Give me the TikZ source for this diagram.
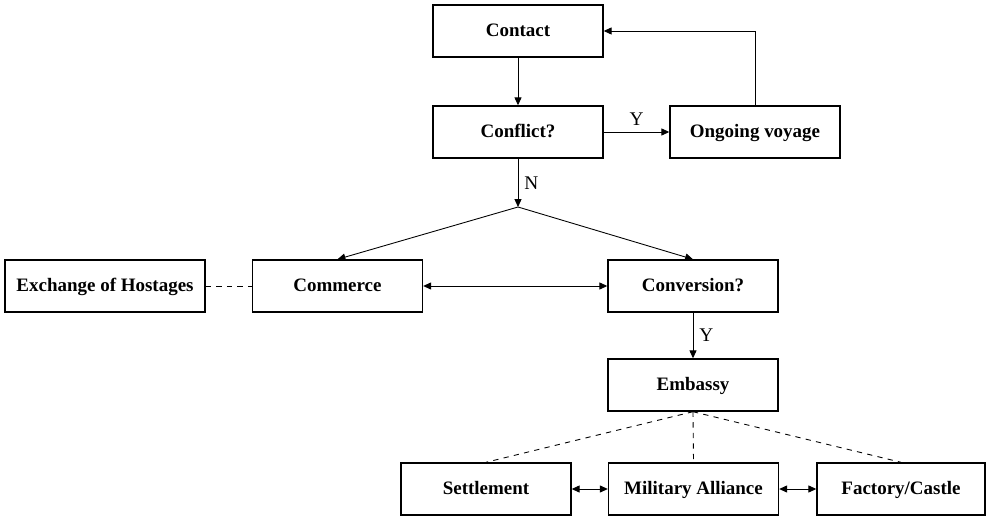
\documentclass[tikz,border=0pt]{standalone}
\usepackage{fontspec}
\setmainfont{Liberation Serif}
\usetikzlibrary{arrows.meta}

\tikzset{
	box/.style={draw, line width=0.8pt, minimum width=3.4cm, minimum height=1.04cm, text height=1.8ex, text depth=0.35ex, font=\fontsize{10.8}{12}\selectfont\bfseries},
	link/.style={line width=0.5pt, -{Triangle[length=4.5pt, width=4pt]}},
	both/.style={line width=0.5pt, {Triangle[length=4.5pt, width=4pt]}-{Triangle[length=4.5pt, width=4pt]}},
	tie/.style={line width=0.5pt, dashed},
	lab/.style={font=\fontsize{11}{12}\selectfont}
}

\begin{document}
\begin{tikzpicture}

	\useasboundingbox (0,0) rectangle (19.72,-10.4);

	% top part
	\node[box] (contact) at (10.36,-0.62) {Contact};
	\node[box] (conflict) at (10.36,-2.64) {Conflict?};
	\node[box] (voyage) at (15.1,-2.64) {Ongoing voyage};
	\coordinate (split) at (10.36,-4.14);

	% middle row
	\node[box, minimum width=4cm] (hostages) at (2.1,-5.72) {Exchange of Hostages};
	\node[box] (commerce) at (6.75,-5.72) {Commerce};
	\node[box] (conversion) at (13.86,-5.72) {Conversion?};
	\node[box] (embassy) at (13.86,-7.7) {Embassy};

	% bottom row
	\node[box] (settlement) at (9.72,-9.78) {Settlement};
	\node[box] (alliance) at (13.87,-9.78) {Military Alliance};
	\node[box, minimum width=3.36cm] (factory) at (18.02,-9.78) {Factory/Castle};

	\draw[link] (contact) -- (conflict);
	\draw[link] (conflict) -- node[lab, above] {Y} (voyage);
	\draw[link] (voyage.north) |- (contact.east);
	\draw[link] (conflict) -- node[lab, right] {N} (split);
	\draw[link] (split) -- (commerce.north);
	\draw[link] (split) -- (conversion.north);
	\draw[tie] (hostages) -- (commerce);
	\draw[both] (commerce) -- (conversion);
	\draw[link] (conversion) -- node[lab, right] {Y} (embassy);

	\draw[tie] (embassy.south) -- (settlement.north);
	\draw[tie] (embassy.south) -- (alliance.north);
	\draw[tie] (embassy.south) -- (factory.north);
	\draw[both] (settlement) -- (alliance);
	\draw[both] (alliance) -- (factory);

\end{tikzpicture}
\end{document}
